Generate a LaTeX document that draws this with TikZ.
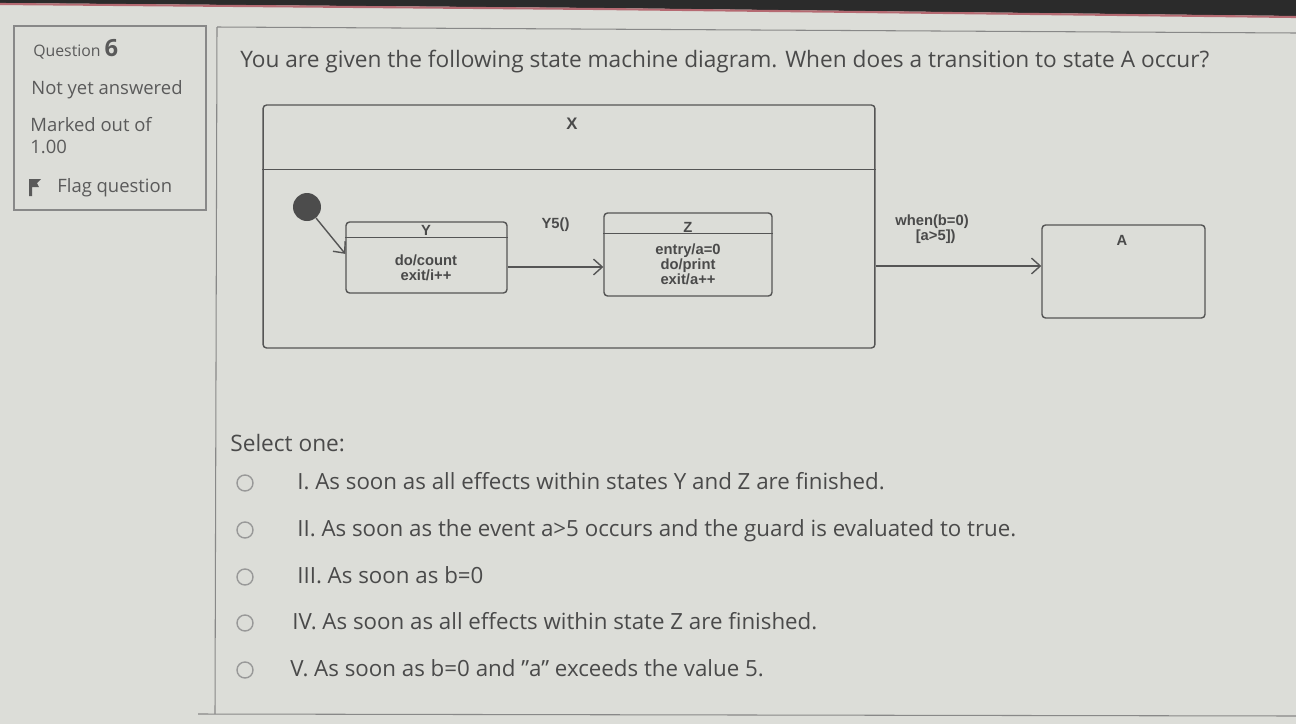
\documentclass[tikz,border=0pt]{standalone}
\usepackage{fontspec}
\setmainfont{Open Sans}
\newfontfamily\diagfont{Liberation Sans}
\usetikzlibrary{arrows.meta,calc}
\definecolor{bgc}{HTML}{DCDDD8}
\definecolor{txt}{HTML}{4A4A4A}
\definecolor{ltxt}{HTML}{5A5A5A}
\definecolor{ln}{HTML}{555555}
\definecolor{dark}{HTML}{2B2B2B}
\definecolor{pinkline}{HTML}{B56A72}
\begin{document}
\begin{tikzpicture}[x=0.02cm,y=-0.02cm,
  panel/.style={draw=ln!70,line width=0.6pt},
  statebox/.style={draw=ln,line width=0.8pt,rounded corners=2pt,inner sep=0pt},
  dtext/.style={font=\diagfont\bfseries\fontsize{8.4}{8.6}\selectfont,text=txt,inner sep=0pt,align=center},
  arr/.style={draw=ln,line width=0.8pt,-{Straight Barb[length=5pt,width=9pt]}},
  ui/.style={font=\fontsize{10.5}{12}\selectfont,text=ltxt,anchor=base west,inner sep=0pt},
  opt/.style={font=\fontsize{12.7}{15}\selectfont,text=txt,anchor=base west,inner sep=0pt},
  radio/.style={circle,draw=ln!60,line width=0.8pt,minimum size=0.32cm,inner sep=0pt}]
\useasboundingbox (0,0) rectangle (1296,724);
\fill[bgc] (0,0) rectangle (1296,724);
% dark top edge of the photo
\fill[dark] (0,0) -- (1296,0) -- (1296,16) -- (600,8) -- (0,3) -- cycle;
\draw[pinkline,line width=1.2pt] (0,4) -- (600,9) -- (1296,17);
% left info panel
\draw[panel] (14,26) rectangle (206,210);
\node[ui,font=\fontsize{9}{10}\selectfont] (qlab) at (33,56) {Question \textbf{\fontsize{13.5}{14}\selectfont 6}};
\node[ui] (nya) at (31,94) {Not yet answered};
\node[ui] (mark) at (30,131) {Marked out of};
\node[ui] (pts) at (30,153) {1.00};
\fill[ltxt] (29,179) -- (41,179) -- (37,183) -- (39,187) -- (32,187) -- (32,196) -- (29,196) -- cycle;
\node[ui] (flag) at (57,192) {Flag question};
% main content box
\draw[panel] (217,27) -- (1296,33);
\draw[panel] (217,27) -- (215,714);
\draw[panel] (198,714) -- (1296,716);
% question text
\node[opt,font=\fontsize{12.9}{15}\selectfont] (q) at (240,67) {You are given the following state machine diagram. When does a transition to state A occur?};
% state machine
\node[statebox,minimum width=12.24cm,minimum height=4.86cm] (X) at (569,226.5) {};
\draw[ln,line width=0.8pt] ($(X.north west)+(0,65)$) -- ($(X.north east)+(0,65)$);
\node[dtext,font=\diagfont\bfseries\fontsize{9.5}{10}\selectfont] (Xl) at (572,124) {X};
\node[circle,fill=ln!90!black,minimum size=0.56cm,inner sep=0pt] (init) at (307,207) {};
\node[statebox,minimum width=3.22cm,minimum height=1.42cm] (Y) at (426.5,257.5) {};
\draw[ln,line width=0.8pt] ($(Y.north west)+(0,16)$) -- ($(Y.north east)+(0,16)$);
\node[dtext] (Yl) at (426,230) {Y};
\node[dtext] (Yb) at (426,268) {do/count\\exit/i++};
\node[statebox,minimum width=3.36cm,minimum height=1.66cm] (Z) at (688,254.5) {};
\draw[ln,line width=0.8pt] ($(Z.north west)+(0,21)$) -- ($(Z.north east)+(0,21)$);
\node[dtext] (Zl) at (688,227) {Z};
\node[dtext] (Zb) at (688,264) {entry/a=0\\do/print\\exit/a++};
\node[statebox,minimum width=3.26cm,minimum height=1.86cm] (A) at (1123.5,271.5) {};
\node[dtext] (Al) at (1122,240) {A};
% transitions
\draw[arr] (init) -- ($(Y.north west)!0.45!(Y.south west)$);
\draw[arr] (Y.east |- 0,267) -- (Z.west |- 0,267) node[dtext,midway,above=20pt] (t1) {Y5()};
\draw[arr] (X.east |- 0,266) -- (A.west |- 0,266);
\node[dtext] (t2l) at (932,229) {when(b=0)\\\hspace*{0.5em}[a>5])};
% options
\node[opt,font=\fontsize{12.9}{15}\selectfont] (sel) at (230,451) {Select one:};
\node[radio] (r1) at (245,483) {};
\node[radio] (r2) at (245,530) {};
\node[radio] (r3) at (245,577) {};
\node[radio] (r4) at (245,623) {};
\node[radio] (r5) at (245,670) {};
\node[opt] (o1) at (297,489) {I. As soon as all effects within states Y and Z are finished.};
\node[opt] (o2) at (297,536) {II. As soon as the event a>5 occurs and the guard is evaluated to true.};
\node[opt] (o3) at (297,583) {III. As soon as b=0};
\node[opt] (o4) at (292,629) {IV. As soon as all effects within state Z are finished.};
\node[opt] (o5) at (290,676) {V. As soon as b=0 and \symbol{34}a\symbol{34} exceeds the value 5.};
\end{tikzpicture}
\end{document}
